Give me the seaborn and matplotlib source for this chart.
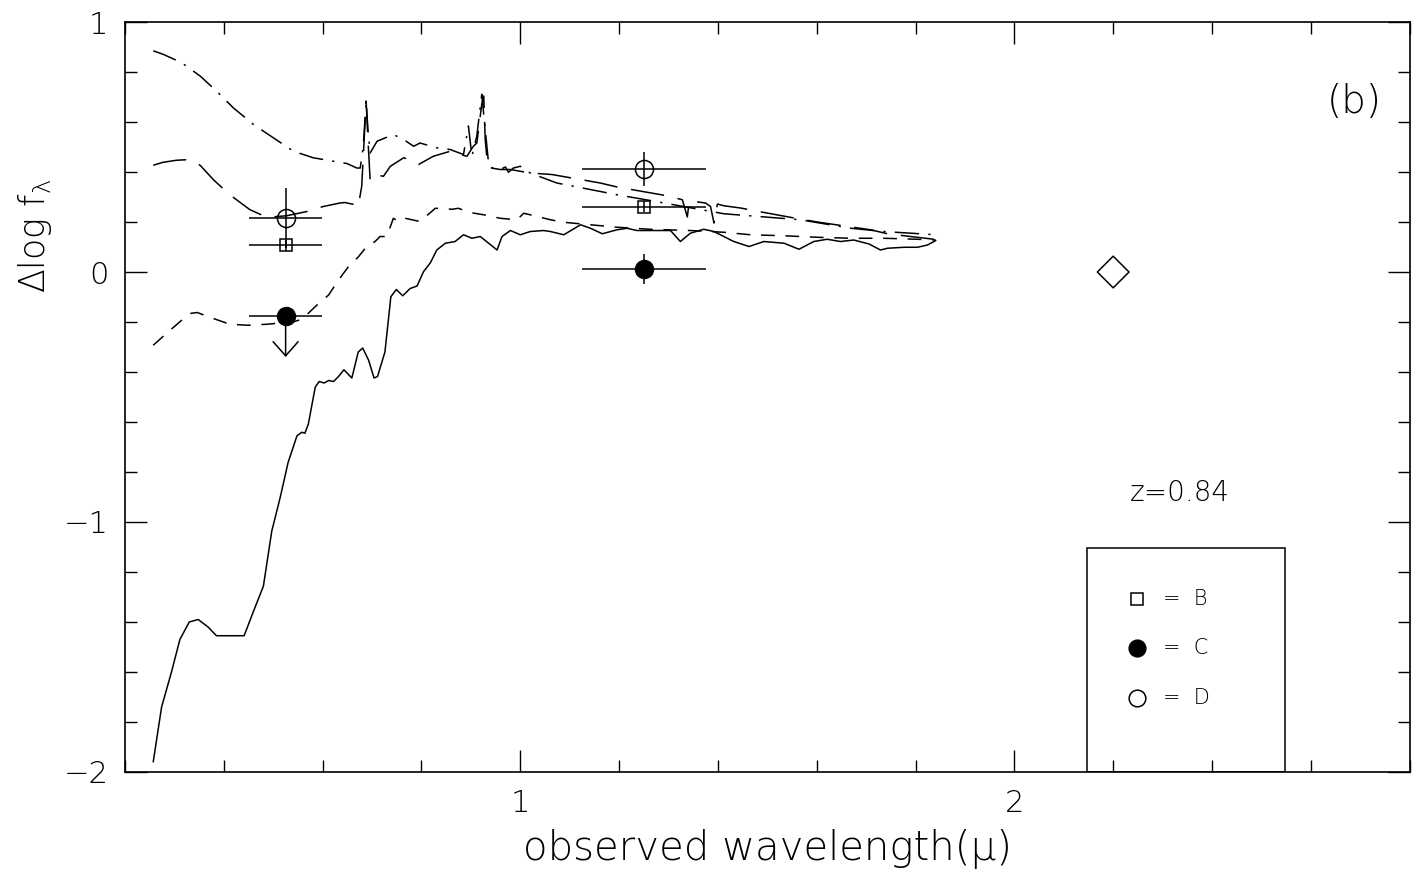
import numpy as np
import pandas as pd
import seaborn as sns
import matplotlib.pyplot as plt
from matplotlib.patches import Rectangle
from matplotlib.ticker import MultipleLocator

# Curvas de modelo (comprimento de onda observado em micra, delta log f_lambda)
x_solido = [0.257, 0.274, 0.294, 0.311, 0.330, 0.348, 0.368, 0.385, 0.441, 0.460, 0.480, 0.497,
            0.514, 0.530, 0.548, 0.558, 0.564, 0.571, 0.585, 0.593, 0.603, 0.612, 0.622, 0.632,
            0.643, 0.659, 0.672, 0.681, 0.693, 0.704, 0.711, 0.726, 0.738, 0.749, 0.762, 0.777,
            0.791, 0.804, 0.818, 0.831, 0.848, 0.868, 0.885, 0.902, 0.919, 0.936, 0.953, 0.963,
            0.980, 1.000, 1.020, 1.047, 1.061, 1.088, 1.122, 1.142, 1.166, 1.196, 1.216, 1.236,
            1.304, 1.324, 1.344, 1.371, 1.392, 1.432, 1.463, 1.493, 1.534, 1.564, 1.594, 1.621,
            1.648, 1.675, 1.706, 1.729, 1.743, 1.777, 1.804, 1.824, 1.841]
y_solido = [-1.96, -1.74, -1.60, -1.47, -1.40, -1.39, -1.42, -1.455, -1.455, -1.357, -1.257, -1.036,
            -0.902, -0.762, -0.655, -0.641, -0.645, -0.608, -0.46, -0.438, -0.444, -0.434, -0.438, -0.418,
            -0.391, -0.424, -0.320, -0.304, -0.353, -0.424, -0.418, -0.320, -0.099, -0.070, -0.095, -0.066,
            -0.056, 0.001, 0.037, 0.088, 0.115, 0.122, 0.149, 0.135, 0.142, 0.115, 0.088, 0.142,
            0.166, 0.149, 0.162, 0.166, 0.162, 0.149, 0.189, 0.175, 0.153, 0.169, 0.175, 0.166,
            0.166, 0.122, 0.155, 0.171, 0.162, 0.122, 0.102, 0.122, 0.115, 0.091, 0.122, 0.131,
            0.122, 0.128, 0.112, 0.088, 0.095, 0.099, 0.099, 0.108, 0.126]

x_tracejado = [0.257, 0.287, 0.311, 0.331, 0.346, 0.379, 0.412, 0.449, 0.487, 0.541, 0.558, 0.588,
               0.612, 0.632, 0.652, 0.672, 0.689, 0.706, 0.716, 0.730, 0.743, 0.753, 0.767, 0.797,
               0.828, 0.862, 0.875, 0.895, 0.926, 0.959, 0.993, 1.007, 1.020, 1.061, 1.088, 1.196,
               1.263, 1.344, 1.412, 1.466, 1.534, 1.601, 1.669, 1.736, 1.804, 1.841]
y_tracejado = [-0.293, -0.240, -0.199, -0.166, -0.162, -0.186, -0.209, -0.213, -0.209, -0.199, -0.189, -0.133,
               -0.092, -0.032, 0.021, 0.060, 0.102, 0.122, 0.142, 0.142, 0.215, 0.202, 0.215, 0.202,
               0.255, 0.251, 0.255, 0.239, 0.229, 0.215, 0.209, 0.235, 0.229, 0.209, 0.199, 0.179,
               0.171, 0.166, 0.159, 0.149, 0.145, 0.139, 0.135, 0.135, 0.131, 0.128]

x_longo = [0.257, 0.277, 0.304, 0.331, 0.352, 0.379, 0.412, 0.453, 0.487, 0.527, 0.568, 0.601,
           0.635, 0.645, 0.666, 0.672, 0.679, 0.688, 0.691, 0.696, 0.703, 0.723, 0.737, 0.764,
           0.784, 0.794, 0.824, 0.858, 0.878, 0.892, 0.905, 0.912, 0.922, 0.926, 0.929, 0.933,
           0.939, 0.959, 0.980, 1.020, 1.064, 1.162, 1.196, 1.297, 1.328, 1.338, 1.342, 1.375,
           1.385, 1.392, 1.399, 1.412, 1.446, 1.480, 1.574, 1.608, 1.709, 1.743, 1.837]
y_longo = [0.427, 0.439, 0.447, 0.450, 0.427, 0.369, 0.309, 0.249, 0.219, 0.225, 0.242, 0.262,
           0.276, 0.278, 0.269, 0.262, 0.343, 0.684, 0.556, 0.369, 0.390, 0.383, 0.423, 0.457,
           0.443, 0.430, 0.463, 0.483, 0.470, 0.463, 0.503, 0.516, 0.671, 0.704, 0.530, 0.443,
           0.417, 0.410, 0.410, 0.396, 0.390, 0.356, 0.340, 0.305, 0.289, 0.220, 0.285, 0.276,
           0.262, 0.196, 0.272, 0.265, 0.256, 0.243, 0.209, 0.198, 0.169, 0.153, 0.131]

x_pontilhado = [0.257, 0.277, 0.314, 0.352, 0.385, 0.419, 0.460, 0.500, 0.541, 0.581, 0.622, 0.649,
                0.669, 0.676, 0.682, 0.688, 0.692, 0.696, 0.710, 0.743, 0.764, 0.784, 0.797, 0.831,
                0.858, 0.885, 0.895, 0.902, 0.912, 0.922, 0.929, 0.936, 0.946, 0.959, 0.970, 0.976,
                0.986, 1.000, 1.020, 1.074, 1.196, 1.263, 1.412, 1.567, 1.669, 1.736, 1.841]
y_pontilhado = [0.885, 0.871, 0.838, 0.784, 0.724, 0.657, 0.590, 0.537, 0.483, 0.457, 0.443, 0.434,
                0.416, 0.416, 0.500, 0.680, 0.560, 0.476, 0.523, 0.550, 0.530, 0.503, 0.516, 0.497,
                0.490, 0.470, 0.584, 0.463, 0.544, 0.711, 0.570, 0.430, 0.412, 0.410, 0.420, 0.399,
                0.416, 0.423, 0.396, 0.356, 0.309, 0.286, 0.233, 0.209, 0.175, 0.162, 0.149]

# Fotometria das componentes B, C e D
fot_x = [0.525, 1.250]
fot_xerr = [0.074, 0.125]
b_y = [0.107, 0.262]
b_yerr = [0.022, 0.022]
c_y = [-0.177, 0.011]
c_yerr = [0.0, 0.060]
c_limite = [0.163, 0.0]
d_y = [0.218, 0.412]
d_yerr = [0.120, 0.068]
diamante_x = [2.200]
diamante_y = [0.0]

sns.set_theme(style="ticks")
plt.rcParams['font.family'] = ['DejaVu Sans']
plt.rcParams['font.weight'] = 'light'
plt.rcParams['axes.labelweight'] = 'light'
plt.rcParams['mathtext.fontset'] = 'custom'
plt.rcParams['mathtext.rm'] = 'DejaVu Sans:weight=light'
plt.rcParams['mathtext.default'] = 'rm'
for k in ['text.color', 'axes.labelcolor', 'xtick.color', 'ytick.color', 'axes.edgecolor']:
    plt.rcParams[k] = 'black'

fig = plt.figure(figsize=(14.21, 8.71), dpi=100)
ax = fig.add_axes([0.088, 0.1137, 0.904, 0.861])

sns.lineplot(x=x_solido, y=y_solido, color='black', lw=1.1, estimator=None, sort=False, ax=ax)
sns.lineplot(x=x_tracejado, y=y_tracejado, color='black', lw=1.1, estimator=None, sort=False,
             linestyle=(0, (9, 7)), ax=ax)
sns.lineplot(x=x_longo, y=y_longo, color='black', lw=1.1, estimator=None, sort=False,
             linestyle=(0, (22, 9)), ax=ax)
sns.lineplot(x=x_pontilhado, y=y_pontilhado, color='black', lw=1.1, estimator=None, sort=False,
             linestyle=(0, (16, 6, 1.5, 6)), ax=ax)

ax.errorbar(fot_x, d_y, xerr=fot_xerr, yerr=d_yerr, fmt='o', mfc='none', mec='black', ms=13,
            ecolor='black', elinewidth=1.1, capsize=0, mew=1.1)
ax.errorbar(fot_x, b_y, xerr=fot_xerr, yerr=b_yerr, fmt='s', mfc='none', mec='black', ms=9,
            ecolor='black', elinewidth=1.1, capsize=0, mew=1.1)
ax.errorbar(fot_x, c_y, xerr=fot_xerr, yerr=c_yerr, fmt='o', mfc='black', mec='black', ms=13,
            ecolor='black', elinewidth=1.1, capsize=0)
for xi, yi, li in zip(fot_x, c_y, c_limite):
    if li > 0:
        ax.annotate('', xy=(xi, yi - li), xytext=(xi, yi),
                    arrowprops=dict(arrowstyle='->,head_length=0.85,head_width=0.75',
                                    color='black', lw=1.1, shrinkA=0, shrinkB=0))
sns.scatterplot(x=diamante_x, y=diamante_y, marker='D', s=260, facecolor='none',
                edgecolor='black', linewidth=1.1, ax=ax)

ax.set_xlim(0.2, 2.8)
ax.set_ylim(-2, 1)
ax.xaxis.set_major_locator(MultipleLocator(1))
ax.xaxis.set_minor_locator(MultipleLocator(0.2))
ax.yaxis.set_major_locator(MultipleLocator(1))
ax.yaxis.set_minor_locator(MultipleLocator(0.2))
ax.tick_params(which='both', direction='in', top=True, right=True, colors='black', width=1.0)
ax.tick_params(which='major', length=16, labelsize=22, pad=12)
ax.tick_params(which='minor', length=8.5)
for s in ax.spines.values():
    s.set_linewidth(1.2)
    s.set_color('black')

ax.set_xlabel('observed wavelength(μ)', fontsize=29, labelpad=8)
ax.set_ylabel(r'$\Delta$log f$_\lambda$', fontsize=25)
ax.yaxis.set_label_coords(-0.055, 0.715)

ax.text(0.957, 0.893, '(b)', transform=ax.transAxes, fontsize=28, ha='center', va='center')
ax.text(0.821, 0.372, 'z=0.84', transform=ax.transAxes, fontsize=20, ha='center', va='center')

# caixa de legenda
ax.add_patch(Rectangle((0.7486, 0.0), 0.1541, 0.298, transform=ax.transAxes,
                       fill=False, edgecolor='black', lw=1.1))
legenda = [('s', 'none', 8, '=  B', 0.2313), ('o', 'black', 12, '=  C', 0.1658),
           ('o', 'none', 12, '=  D', 0.0989)]
for mk, fc, ms, txt, yy in legenda:
    ax.plot([0.7875], [yy], marker=mk, mfc=fc, mec='black', ms=ms, mew=1.1,
            transform=ax.transAxes, ls='none')
    ax.text(0.808, yy, txt, transform=ax.transAxes, fontsize=15, va='center', ha='left')

fig.savefig('out.png', dpi=100)
